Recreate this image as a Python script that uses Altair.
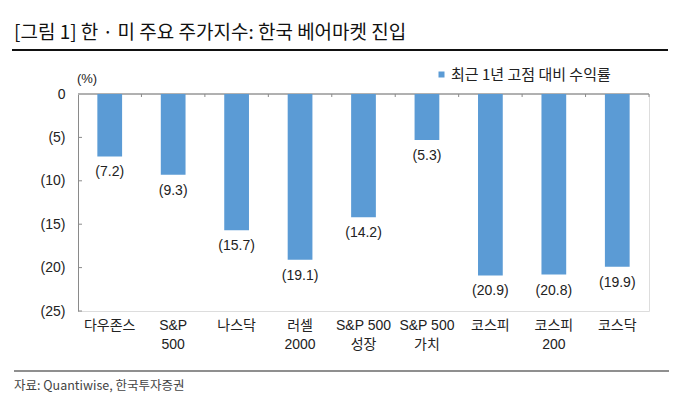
import altair as alt
import pandas as pd

categories = ["다우존스", "S&P|500", "나스닥", "러셀|2000", "S&P 500|성장", "S&P 500|가치", "코스피", "코스피|200", "코스닥"]
values = [-7.2, -9.3, -15.7, -19.1, -14.2, -5.3, -20.9, -20.8, -19.9]
series_name = "최근 1년 고점 대비 수익률"
y_ticks = [0, -5, -10, -15, -20, -25]

title_text = "[그림 1] 한 · 미 주요 주가지수: 한국 베어마켓 진입"
source_text = "자료: Quantiwise, 한국투자증권"
unit_text = "(%)"

FONT = "Liberation Sans, Arial, Noto Sans CJK KR"
KFONT = "Noto Sans CJK KR"
W, H = 571, 217

df = pd.DataFrame({"cat": categories, "val": values, "series": series_name})
df["lab"] = ["(" + f"{abs(v):.1f}" + ")" for v in values]
ticks_df = pd.DataFrame({"t": y_ticks[1:]})

xenc = alt.X("cat:N", sort=categories, scale=alt.Scale(paddingInner=0, paddingOuter=0),
             axis=alt.Axis(title=None, domain=False, ticks=False, labelAngle=0,
                           labelExpr="split(datum.label, '|')", labelFontSize=14,
                           labelFont=FONT, labelColor="#222", labelPadding=7,
                           labelLineHeight=19, labelBaseline="top"))
yscale = alt.Scale(domain=[-25, 0], nice=False, zero=False)
yenc = alt.Y("val:Q", scale=yscale,
             axis=alt.Axis(title=None, values=y_ticks, ticks=False, grid=False,
                           domainColor="#8a8a8a", domainWidth=1, labelFontSize=14,
                           labelFont=FONT, labelColor="#222", labelPadding=13,
                           labelExpr="datum.value == 0 ? '0' : '(' + abs(datum.value) + ')'"))

base = alt.Chart(df)

bars = base.mark_bar(width=alt.RelativeBandSize(0.39)).encode(
    x=xenc, y=yenc,
    color=alt.Color("series:N", scale=alt.Scale(range=["#5b9bd5"]),
                    legend=alt.Legend(title=None, orient="none", legendX=356, legendY=-27,
                                      symbolType="square", symbolSize=36, labelFontSize=15,
                                      labelFont=KFONT, labelColor="#222", symbolStrokeWidth=0,
                                      labelOffset=2)),
)

labels = base.mark_text(baseline="top", dy=9, fontSize=14, font=FONT, color="#222").encode(
    x=alt.X("cat:N", sort=categories), y=alt.Y("val:Q", scale=yscale), text="lab:N")

top_line = base.mark_rule(color="#b0b0b0", strokeWidth=1).encode(y=alt.datum(0))

top_ticks = base.mark_rule(color="#8a8a8a", strokeWidth=1).encode(
    x=alt.X("cat:N", sort=categories, bandPosition=1), y=alt.value(0), y2=alt.value(3))

y_inner_ticks = alt.Chart(ticks_df).mark_rule(color="#8a8a8a", strokeWidth=1).encode(
    y=alt.Y("t:Q", scale=yscale), x=alt.value(0), x2=alt.value(4))

anno = pd.DataFrame({"k": [0]})
title_mark = alt.Chart(anno).mark_text(align="left", baseline="alphabetic", fontSize=19,
                                       font=KFONT, color="#111").encode(
    x=alt.value(-64), y=alt.value(-55), text=alt.datum(title_text))
title_rule = alt.Chart(anno).mark_rule(color="#111", strokeWidth=2).encode(
    x=alt.value(-66), x2=alt.value(590), y=alt.value(-44))
unit_mark = alt.Chart(anno).mark_text(align="center", baseline="middle", fontSize=13,
                                      font=FONT, color="#222").encode(
    x=alt.value(9), y=alt.value(-15), text=alt.datum(unit_text))
source_rule = alt.Chart(anno).mark_rule(color="#8f8f8f", strokeWidth=2).encode(
    x=alt.value(-64), x2=alt.value(595), y=alt.value(277))
source_mark = alt.Chart(anno).mark_text(align="left", baseline="middle", fontSize=12.5,
                                        font=KFONT, color="#444").encode(
    x=alt.value(-64), y=alt.value(292), text=alt.datum(source_text))

chart = alt.layer(
    top_line, bars, labels, top_ticks, y_inner_ticks,
    title_mark, title_rule, unit_mark, source_rule, source_mark
).properties(
    width=W, height=H,
    autosize=alt.AutoSizeParams(type="none"),
    padding={"left": 70, "top": 86, "right": 20, "bottom": 92},
).configure_view(stroke=None).configure(background="white")

chart.save("out.html", embed_options={"renderer": "svg", "actions": False})
